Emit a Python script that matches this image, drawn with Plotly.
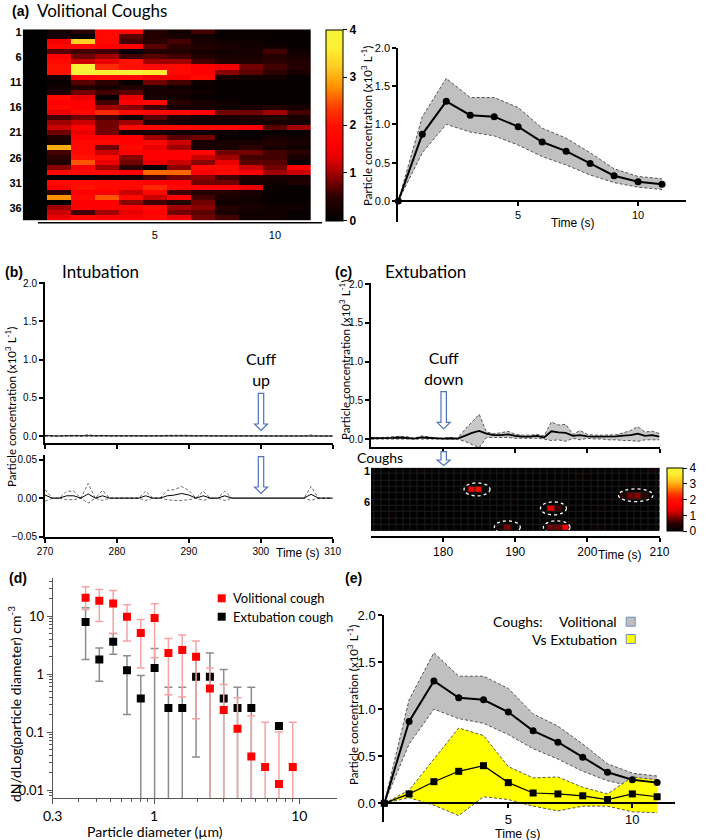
import plotly.graph_objects as go

W, H = 709, 840

# ---------------- data ----------------
# (a) volitional coughs: particle concentration per cough (rows) and second (columns)
vol_heat = [
    [0, 0.2, 0.5, 1.8, 1.8, 0.4, 0.2, 0.6, 0.1, 0.1, 0.1, 0.1],
    [0, 0.3, 0.0, 1.8, 0.7, 0.4, 0.3, 0.2, 0.1, 0.1, 0.1, 0.1],
    [0, 1.5, 3.3, 1.8, 0.6, 0.5, 0.6, 0.3, 0.2, 0.2, 0.1, 0.1],
    [0, 1.8, 1.8, 1.6, 1.6, 0.7, 0.5, 0.4, 0.3, 0.2, 0.2, 0.1],
    [0, 0.7, 0.6, 0.6, 0.1, 0.4, 0.4, 0.3, 0.2, 0.3, 0.6, 0.2],
    [0, 1.6, 0.8, 1.0, 0.6, 0.7, 0.6, 0.4, 0.3, 0.3, 0.4, 0.3],
    [0, 1.8, 1.2, 1.4, 2.0, 1.0, 1.0, 0.6, 0.4, 0.4, 0.5, 0.4],
    [0, 2.0, 3.9, 2.2, 2.0, 1.8, 1.8, 1.6, 1.5, 0.8, 0.6, 0.4],
    [0, 2.0, 3.9, 3.6, 3.8, 3.6, 1.8, 1.6, 0.9, 0.7, 0.5, 0.3],
    [0, 0.3, 1.6, 1.8, 1.8, 1.5, 1.5, 1.8, 0.3, 0.2, 0.2, 0.1],
    [0, 0.1, 0.7, 0.5, 0.1, 0.8, 0.6, 0.2, 0.1, 0.1, 0.1, 0.1],
    [0, 0.2, 0.4, 0.3, 0.4, 0.3, 0.2, 0.1, 0.1, 0.1, 0.1, 0.1],
    [0, 0.4, 0.8, 0.6, 0.7, 0.3, 0.3, 0.2, 0.1, 0.1, 0.1, 0.1],
    [0, 1.8, 1.4, 0.1, 1.4, 0.3, 0.2, 0.1, 0.1, 0.1, 0.1, 0.1],
    [0, 1.6, 1.6, 0.6, 1.6, 1.8, 0.5, 0.3, 0.2, 0.1, 0.1, 0.1],
    [0, 1.8, 1.6, 1.0, 0.9, 0.6, 0.3, 0.3, 0.2, 0.3, 0.4, 0.3],
    [0, 1.4, 1.8, 2.2, 1.8, 1.8, 1.8, 1.6, 0.8, 0.8, 1.0, 0.6],
    [0, 0.6, 0.8, 0.6, 0.2, 0.7, 0.4, 0.3, 0.3, 0.4, 0.4, 0.3],
    [0, 1.0, 1.2, 0.8, 1.0, 0.4, 0.3, 0.2, 0.2, 0.3, 0.3, 0.2],
    [0, 1.2, 1.6, 0.8, 1.8, 1.8, 1.8, 1.8, 1.8, 1.6, 0.7, 1.0],
    [0, 0.8, 1.4, 0.8, 0.3, 0.3, 0.2, 0.2, 0.2, 0.1, 0.1, 0.1],
    [0, 0.4, 1.6, 1.6, 1.6, 1.0, 0.7, 0.8, 0.1, 0.1, 0.3, 0.2],
    [0, 0.3, 1.8, 1.8, 1.6, 1.8, 1.2, 0.3, 0.3, 0.3, 0.4, 0.3],
    [0, 3.0, 1.8, 0.8, 1.8, 1.4, 1.0, 0.3, 0.3, 0.5, 0.3, 0.2],
    [0, 0.6, 1.8, 1.2, 1.6, 1.6, 1.6, 1.8, 0.8, 0.8, 0.6, 0.5],
    [0, 0.5, 2.0, 1.8, 0.9, 1.6, 1.6, 1.2, 1.0, 0.6, 0.6, 0.3],
    [0, 0.4, 2.5, 1.4, 0.8, 1.4, 1.2, 0.9, 1.4, 0.7, 0.7, 0.1],
    [0, 0.9, 1.6, 1.0, 0.5, 0.1, 0.9, 1.8, 1.8, 1.2, 0.8, 1.6],
    [0, 1.8, 1.8, 1.8, 1.6, 2.6, 2.6, 1.6, 1.8, 1.6, 1.0, 1.2],
    [0, 0.1, 0.1, 0.2, 0.3, 0.6, 0.8, 0.9, 0.6, 0.4, 0.3, 0.3],
    [0, 1.8, 1.8, 1.8, 1.8, 1.6, 1.6, 0.8, 0.8, 0.3, 0.2, 0.4],
    [0, 1.6, 2.0, 1.8, 1.8, 2.2, 1.8, 1.6, 1.6, 1.4, 0.1, 0.1],
    [0, 0.5, 1.6, 1.6, 1.2, 1.8, 0.6, 0.4, 0.4, 0.3, 0.1, 0.1],
    [0, 2.8, 1.8, 2.5, 1.8, 1.2, 1.6, 0.6, 0.3, 0.2, 0.1, 0.1],
    [0, 0.0, 1.6, 1.6, 0.9, 0.6, 0.4, 0.8, 0.2, 0.2, 0.1, 0.1],
    [0, 1.0, 1.6, 1.6, 1.6, 1.8, 1.0, 0.9, 0.4, 0.3, 0.2, 0.2],
    [0, 1.2, 0.6, 1.0, 1.4, 1.6, 0.8, 0.7, 0.3, 0.2, 0.2, 0.1],
    [0, 1.4, 1.8, 1.6, 1.6, 1.8, 1.4, 0.8, 0.6, 0.2, 0.2, 0.1],
]
vol_seconds = list(range(12))
cough_ids = list(range(1, len(vol_heat) + 1))

# (a)/(e) mean +/- band, x10^3 L^-1
vol_time = list(range(12))
vol_mean = [0, 0.87, 1.30, 1.12, 1.10, 0.97, 0.77, 0.65, 0.49, 0.33, 0.25, 0.22]
vol_upper = [0, 1.10, 1.60, 1.35, 1.35, 1.22, 0.95, 0.82, 0.63, 0.42, 0.32, 0.29]
vol_lower = [0, 0.63, 1.00, 0.90, 0.85, 0.73, 0.58, 0.47, 0.34, 0.24, 0.18, 0.15]

ext_mean = [0, 0.10, 0.23, 0.34, 0.40, 0.22, 0.11, 0.10, 0.08, 0.04, 0.10, 0.07]
ext_upper = [0, 0.14, 0.47, 0.80, 0.72, 0.39, 0.27, 0.28, 0.17, 0.10, 0.28, 0.25]
ext_lower = [0, 0.06, -0.02, -0.13, 0.07, 0.04, -0.03, -0.08, -0.03, -0.03, -0.09, -0.10]

# (b) intubation
intub_time = list(range(270, 311))
intub_mean = [0.004, 0, 0, 0.003, 0.003, 0, 0.0055, 0, 0.003, 0,
              0, 0, 0, 0, 0.003, 0, 0, 0.003, 0.004, 0.006,
              0.004, 0, 0.003, 0, 0, 0.003, 0, 0, 0, 0,
              0, 0, 0, 0, 0, 0, 0, 0.005, 0, 0, 0]
intub_upper = [0.011, 0, 0, 0.009, 0.009, 0, 0.019, 0, 0.010, 0,
               0, 0, 0, 0, 0.009, 0, 0, 0.010, 0.011, 0.015,
               0.010, 0, 0.009, 0, 0, 0.009, 0, 0, 0, 0,
               0, 0, 0, 0, 0, 0, 0, 0.015, 0, 0, 0]
intub_lower = [-0.004, 0, 0, -0.002, -0.002, 0, -0.0065, 0, -0.003, 0,
               0, 0, 0, 0, -0.003, 0, 0, -0.002, -0.003, -0.003,
               -0.002, 0, -0.003, 0, 0, -0.003, 0, 0, 0, 0,
               0, 0, 0, 0, 0, 0, 0, -0.003, 0, 0, 0]

# (c) extubation
extub_time = list(range(170, 211))
extub_mean = [0.01, 0.01, 0.01, 0.015, 0.02, 0.015, 0.005, 0.02, 0.015, 0.005,
              0.005, 0.01, 0.005, 0.04, 0.08, 0.105, 0.07, 0.05, 0.05, 0.06,
              0.04, 0.03, 0.03, 0.04, 0.02, 0.10, 0.085, 0.08, 0.04, 0.05,
              0.035, 0.03, 0.03, 0.03, 0.035, 0.045, 0.05, 0.07, 0.04, 0.05, 0.03]
extub_upper = [0.02, 0.02, 0.02, 0.03, 0.035, 0.03, 0.01, 0.04, 0.03, 0.01,
               0.01, 0.02, 0.01, 0.12, 0.22, 0.32, 0.09, 0.07, 0.08, 0.10,
               0.06, 0.05, 0.05, 0.06, 0.04, 0.22, 0.18, 0.19, 0.06, 0.11,
               0.06, 0.05, 0.05, 0.05, 0.055, 0.08, 0.11, 0.16, 0.09, 0.10, 0.07]
extub_lower = [0.0, 0.0, -0.005, 0.0, 0.0, 0.0, 0.0, 0.0, 0.0, 0.0,
               0.0, 0.0, 0.0, -0.03, -0.07, -0.11, 0.02, 0.02, 0.02, 0.02,
               0.01, 0.01, 0.01, 0.01, 0.0, -0.02, -0.01, -0.03, 0.01, -0.01,
               0.01, 0.0, 0.0, -0.01, -0.01, -0.02, -0.02, -0.03, -0.01, -0.01, -0.01]

# (c) cough heatmap: (cough row, second, value); all other cells ~0
extub_rows = list(range(1, 11))
extub_cells = [
    (4, 184, 1.5), (4, 185, 1.9),
    (7, 195, 1.3), (7, 196, 0.6),
    (5, 205, 0.5), (5, 206, 0.8), (5, 207, 0.9), (5, 208, 0.5),
    (10, 188, 0.3), (10, 189, 0.9),
    (10, 195, 0.8), (10, 196, 0.8), (10, 197, 1.6),
    (1, 177, 0.15), (1, 209, 0.2), (2, 199, 0.12), (2, 200, 0.1),
    (3, 206, 0.12), (3, 207, 0.12), (6, 189, 0.1), (6, 190, 0.1),
    (7, 202, 0.15), (8, 173, 0.1), (9, 198, 0.1), (10, 180, 0.1),
    (10, 201, 0.15), (10, 202, 0.1),
]
# circled coughs: t_start, t_end, row_top, row_bottom
extub_circled = [
    (182.9, 186.5, 2.9, 4.95),
    (193.5, 197.1, 5.9, 7.95),
    (204.3, 209.1, 3.85, 5.85),
    (187.1, 190.7, 8.9, 10.9),
    (193.9, 197.6, 8.9, 10.9),
]

# (d) size distribution
diameter = [0.337, 0.419, 0.522, 0.650, 0.809, 1.007, 1.254, 1.562,
            1.944, 2.421, 3.014, 3.752, 4.672, 5.816, 7.241, 9.016]
vol_dn = [20.6, 18.3, 16.5, 9.7, 5.1, 9.2, 2.3, 2.6,
          1.98, 0.56, 0.24, 0.114, 0.038, 0.025, 0.0127, 0.025]
vol_dn_hi = [32, 28.6, 27.5, 15.6, 8.7, 16.3, 4.1, 4.7,
             3.7, 1.27, 0.66, 0.39, 0.19, 0.148, 0.10, 0.148]
vol_dn_lo = [13, 8.0, 5.0, 3.7, 1.27, 1.9, 0.44, 0.40,
             0.17, 0, 0, 0, 0, 0, 0, 0]
ext_dn = [7.9, 1.78, 3.6, 1.16, 0.38, 1.27, 0.26, 0.26,
          0.90, 0.90, 0.38, 0.26, 0.26, None, 0.127, None]
ext_dn_hi = [13.9, 2.8, 5.0, 2.06, 0.94, 2.75, 0.59, 0.59,
             1.8, 2.3, 1.2, 0.59, 0.59, None, 0.127, None]
ext_dn_lo = [1.78, 0.75, 2.2, 0.20, 0, 0, 0, 0,
             0.037, 0, 0, 0, 0, None, 0.127, None]

# ---------------- helpers ----------------
def px(x):
    return x / W


def py(y):
    return 1 - y / H


HOT = [[0, '#000000'], [0.125, '#2a0000'], [0.25, '#a00000'], [0.325, '#e00000'],
       [0.4, '#ff0000'], [0.5, '#ff1000'], [0.6, '#ff4000'], [0.7, '#ff9000'],
       [0.8, '#ffc820'], [0.9, '#ffee30'], [1, '#f5f53a']]
TICK = 'Liberation Sans'
TXT = 'Lato'
ARROW = '#4f72b8'

fig = go.Figure()


def band(xs, up, lo, xa, ya, fill, border='#555555'):
    fig.add_trace(go.Scatter(x=xs, y=up, mode='lines', xaxis=xa, yaxis=ya,
                             line=dict(color=border, width=1, dash='3px,2px')))
    fig.add_trace(go.Scatter(x=xs, y=lo, mode='lines', xaxis=xa, yaxis=ya, fill='tonexty',
                             fillcolor=fill, line=dict(color=border, width=1, dash='3px,2px')))


def mean_line(xs, mean, xa, ya, marker=None, size=7, width=2):
    fig.add_trace(go.Scatter(x=xs, y=mean, xaxis=xa, yaxis=ya,
                             mode='lines+markers' if marker else 'lines',
                             line=dict(color='black', width=width),
                             marker=dict(symbol=marker or 'circle', size=size, color='black'),
                             cliponaxis=False))


def cbar(x, y, length, thick, size, bold):
    return dict(x=px(x), xanchor='left', y=py(y), yanchor='middle', len=length / H,
                thickness=thick, xpad=0, ypad=0, outlinewidth=1, outlinecolor='black',
                ticks='outside', ticklen=4, tickcolor='black', tickvals=[0, 1, 2, 3, 4],
                tickfont=dict(family=TICK, size=size, color='black',
                              weight='bold' if bold else 'normal'))


# (a) heatmap
fig.add_trace(go.Heatmap(z=vol_heat, x=vol_seconds, y=cough_ids, xaxis='x', yaxis='y',
                         colorscale=HOT, zmin=0, zmax=4,
                         colorbar=cbar(326, 125, 191.4, 17, 12, True)))

# (a) line
band(vol_time, vol_upper, vol_lower, 'x2', 'y2', '#c0c0c0')
mean_line(vol_time, vol_mean, 'x2', 'y2', 'circle')

# (b)
for xa, ya in (('x3', 'y3'), ('x4', 'y4')):
    fig.add_trace(go.Scatter(x=intub_time, y=intub_upper, xaxis=xa, yaxis=ya, mode='lines',
                             line=dict(color='#444444', width=0.8, dash='3px,2px')))
    fig.add_trace(go.Scatter(x=intub_time, y=intub_lower, xaxis=xa, yaxis=ya, mode='lines',
                             line=dict(color='#444444', width=0.8, dash='3px,2px')))
    mean_line(intub_time, intub_mean, xa, ya, width=1)

# (c) top
band(extub_time, extub_upper, extub_lower, 'x5', 'y5', '#c8c8c8')
mean_line(extub_time, extub_mean, 'x5', 'y5', width=1.8)

# (c) heatmap
grid = [[0.0 for _ in extub_time] for _ in extub_rows]
for r, t, v in extub_cells:
    grid[r - 1][t - extub_time[0]] = v
fig.add_trace(go.Heatmap(z=grid, x=extub_time, y=extub_rows, xaxis='x6', yaxis='y6',
                         colorscale=HOT, zmin=0, zmax=4, xgap=1, ygap=1,
                         colorbar=cbar(666.7, 499.7, 62.7, 15.5, 12, False)))


# (d)
def err(vals, hi, lo):
    plus = [(h - v) if v is not None else 0 for v, h in zip(vals, hi)]
    minus = [(v - l) if v is not None else 0 for v, l in zip(vals, lo)]
    return plus, minus


ep, em = err(ext_dn, ext_dn_hi, ext_dn_lo)
fig.add_trace(go.Scatter(x=diameter, y=ext_dn, xaxis='x7', yaxis='y7', mode='markers',
                         marker=dict(symbol='square', size=8, color='black'),
                         error_y=dict(type='data', symmetric=False, array=ep, arrayminus=em,
                                      color='#8c8c8c', thickness=1.5, width=4)))
vp, vm = err(vol_dn, vol_dn_hi, vol_dn_lo)
fig.add_trace(go.Scatter(x=diameter, y=vol_dn, xaxis='x7', yaxis='y7', mode='markers',
                         marker=dict(symbol='square', size=8, color='#ff0000'),
                         error_y=dict(type='data', symmetric=False, array=vp, arrayminus=vm,
                                      color='#f5a3a3', thickness=1.5, width=4)))

# (e)
band(vol_time, vol_upper, vol_lower, 'x8', 'y8', '#c0c0c0')
band(vol_time, ext_upper, ext_lower, 'x8', 'y8', '#ffff00')
mean_line(vol_time, vol_mean, 'x8', 'y8', 'circle')
mean_line(vol_time, ext_mean, 'x8', 'y8', 'square', width=1.2)


# ---------------- axes ----------------
def ax(**kw):
    base = dict(showgrid=False, zeroline=False, showline=True, linecolor='black', linewidth=2,
                ticks='outside', ticklen=4, tickwidth=1.5, tickcolor='black', automargin=False,
                tickfont=dict(family=TICK, size=11, color='black'))
    base.update(kw)
    return base


lin_y = dict(tickvals=[0, 0.5, 1, 1.5, 2], tickformat='.1f')
fig.update_layout(
    xaxis=ax(domain=[px(22.7), px(311)], range=[-0.5, 11.5], anchor='y', showline=False,
             ticks='', tickvals=[5, 10], ticklabelstandoff=6),
    yaxis=ax(domain=[py(220.7), py(29.3)], range=[38.5, 0.5], anchor='x', showline=False,
             ticks='', tickvals=list(range(1, 39, 5)),
             tickfont=dict(family=TICK, size=11, weight='bold', color='black')),
    xaxis2=ax(domain=[px(398.3), px(686)], range=[0, 12], anchor='free', position=py(201),
              tickvals=[5, 10]),
    yaxis2=ax(domain=[py(222), py(47.7)], range=[-0.274, 2.0], anchor='x2', **lin_y),
    xaxis3=ax(domain=[px(45), px(332.7)], range=[270, 310], anchor='y3',
              tickvals=[270, 280, 290, 300, 310], showticklabels=False),
    yaxis3=ax(domain=[py(443.3), py(282)], range=[-0.0956, 2.017], anchor='x3',
              tickfont=dict(family=TICK, size=10, color='black'), **lin_y),
    xaxis4=ax(domain=[px(45), px(332.7)], range=[270, 310], anchor='y4',
              tickvals=[270, 280, 290, 300, 310], tickfont=dict(family=TICK, size=10, color='black')),
    yaxis4=ax(domain=[py(536.7), py(455)], range=[-0.05, 0.0559], anchor='x4',
              tickvals=[-0.05, 0, 0.05], tickformat='.2f',
              tickfont=dict(family=TICK, size=10, color='black')),
    xaxis5=ax(domain=[px(371), px(659.5)], range=[170, 210], anchor='y5',
              tickvals=[180, 190, 200, 210], showticklabels=False),
    yaxis5=ax(domain=[py(447.3), py(283)], range=[-0.107, 2.017], anchor='x5',
              tickfont=dict(family=TICK, size=10, color='black'), **lin_y),
    xaxis6=ax(domain=[px(371), px(659.5)], range=[170, 210], anchor='y6',
              tickvals=[180, 190, 200, 210], tickfont=dict(family=TICK, size=12, color='black')),
    yaxis6=ax(domain=[py(536), py(467.7)], range=[11.29, 0.5], anchor='x6', showline=False,
              ticks='', tickvals=[1, 6],
              tickfont=dict(family=TICK, size=11, weight='bold', color='black')),
    xaxis7=ax(type='log', domain=[px(52.7), px(336.7)], range=[-0.699, 1.2577], anchor='y7',
              linecolor='#555555', linewidth=1, tickcolor='#555555', tickwidth=1, ticklen=5,
              tickvals=[0.2, 1, 10], ticktext=['0.3', '1', '10'],
              tickfont=dict(family=TXT, size=14, color='black'),
              minor=dict(ticks='outside', ticklen=3, tickcolor='#555555',
                         tickvals=[0.3, 0.4, 0.5, 0.6, 0.7, 0.8, 0.9, 2, 3, 4, 5, 6, 7, 8, 9])),
    yaxis7=ax(type='log', domain=[py(798.3), py(578.3)], range=[-2.143, 1.65], anchor='x7',
              linecolor='#555555', linewidth=1, tickcolor='#555555', tickwidth=1, ticklen=5,
              tickvals=[0.01, 0.1, 1, 10], ticktext=['0.01', '0.1', '1', '10'],
              tickfont=dict(family=TXT, size=13, color='black'),
              minor=dict(ticks='outside', ticklen=3, tickcolor='#555555',
                         tickvals=[0.008, 0.009, 0.02, 0.03, 0.04, 0.05, 0.06, 0.07, 0.08, 0.09,
                                   0.2, 0.3, 0.4, 0.5, 0.6, 0.7, 0.8, 0.9,
                                   2, 3, 4, 5, 6, 7, 8, 9, 20, 30, 40])),
    xaxis8=ax(domain=[px(384.3), px(675)], range=[0, 11.72], anchor='free', position=py(803.3),
              tickvals=[5, 10], tickfont=dict(family=TICK, size=13, color='black')),
    yaxis8=ax(domain=[py(821.7), py(615)], range=[-0.195, 2.0], anchor='x8',
              tickfont=dict(family=TICK, size=13, color='black'), **lin_y),
)

# ---------------- decorations ----------------
shapes = []


def hollow_arrow(cx, top, neck, tip, shaft=2.7, head=6.5):
    pts = [(cx - shaft, top), (cx + shaft, top), (cx + shaft, neck), (cx + head, neck),
           (cx, tip), (cx - head, neck), (cx - shaft, neck)]
    path = 'M ' + ' L '.join(f'{px(x):.5f},{py(y):.5f}' for x, y in pts) + ' Z'
    return dict(type='path', xref='paper', yref='paper', path=path,
                line=dict(color=ARROW, width=1.2), fillcolor='white', layer='above')


shapes += [hollow_arrow(261, 393.3, 424, 430.5), hollow_arrow(261, 456.7, 487, 493.5),
           hollow_arrow(443.7, 391.7, 422.3, 429), hollow_arrow(443.7, 451.7, 460, 465.5)]

# axis rule under heatmap (a)
shapes.append(dict(type='line', xref='paper', yref='paper', x0=px(38), x1=px(322),
                   y0=py(222.7), y1=py(222.7), line=dict(color='black', width=1.5)))
# dark backing for heatmap (c) grid
shapes.append(dict(type='rect', xref='x6', yref='y6', x0=170, x1=210, y0=0.5, y1=10.5,
                   fillcolor='#1c1c1c', line=dict(width=0), layer='below'))
for t0, t1, r0, r1 in extub_circled:
    shapes.append(dict(type='circle', xref='x6', yref='y6', x0=t0, x1=t1, y0=r0, y1=r1,
                       line=dict(color='white', width=1.3, dash='dot')))


def square(cx, cy, half, fill, edge):
    return dict(type='rect', xref='paper', yref='paper', x0=px(cx - half), x1=px(cx + half),
                y0=py(cy + half), y1=py(cy - half), fillcolor=fill,
                line=dict(color=edge or fill, width=1 if edge else 0))


shapes += [square(221.7, 598.3, 4, '#ff0000', None), square(221.7, 616.7, 4, '#000000', None),
           square(630.7, 621.7, 4.5, '#c0c0c0', '#6f8fc0'),
           square(630.7, 639, 4.5, '#ffff00', '#6f8fc0')]

ann = []


def text(x, y, s, size, family=TXT, xanchor='center', angle=0, bold=False):
    ann.append(dict(x=px(x), y=py(y), xref='paper', yref='paper', text=s, showarrow=False,
                    xanchor=xanchor, yanchor='middle', textangle=angle,
                    font=dict(family=family, size=size, color='black',
                              weight='bold' if bold else 'normal')))


conc = 'Particle concentration (x10<sup>3</sup> L<sup>-1</sup>)'
text(10, 11, '(a)', 14, TICK, 'left', bold=True)
text(35, 11, 'Volitional Coughs', 17, xanchor='left')
text(3, 272, '(b)', 14, TICK, 'left', bold=True)
text(60, 272, 'Intubation', 17, xanchor='left')
text(333, 272, '(c)', 14, TICK, 'left', bold=True)
text(383, 272, 'Extubation', 17, xanchor='left')
text(7, 578, '(d)', 14, TICK, 'left', bold=True)
text(343, 578, '(e)', 14, TICK, 'left', bold=True)
text(261, 369, 'Cuff<br>up', 16)
text(443.5, 368, 'Cuff<br>down', 16)
text(355, 458, 'Coughs', 14, xanchor='left')
text(573, 223, 'Time (s)', 12, TICK)
text(298, 553, 'Time (s)', 12, TICK)
text(620, 555, 'Time (s)', 12, TICK)
text(517, 833.5, 'Time (s)', 12.5, TICK)
text(366, 126, conc, 11.5, angle=-90)
text(10, 407, conc, 11.5, angle=-90)
text(344, 360, conc, 11.5, angle=-90)
text(352, 705, conc, 11.5, angle=-90)
text(14, 704, 'dN/dLog(particle diameter) cm<sup>-3</sup>', 14, angle=-90)
text(155, 831, 'Particle diameter (µm)', 14)
text(231, 598.3, 'Volitional cough', 13, xanchor='left')
text(231, 616.7, 'Extubation cough', 13, xanchor='left')
text(491, 621.7, 'Coughs:', 14, xanchor='left')
text(619, 621.7, 'Volitional', 14, xanchor='right')
text(619, 639, 'Vs Extubation', 14, xanchor='right')

fig.update_layout(width=W, height=H, autosize=False, margin=dict(l=0, r=0, t=0, b=0),
                  showlegend=False, plot_bgcolor='white', paper_bgcolor='white',
                  shapes=shapes, annotations=ann)

# page body has a default 8px margin; drop it so the figure sits at the window origin
fig.write_html("out.html", config={'displayModeBar': False},
               post_script="document.body.style.margin='0px';document.body.style.overflow='hidden';")
